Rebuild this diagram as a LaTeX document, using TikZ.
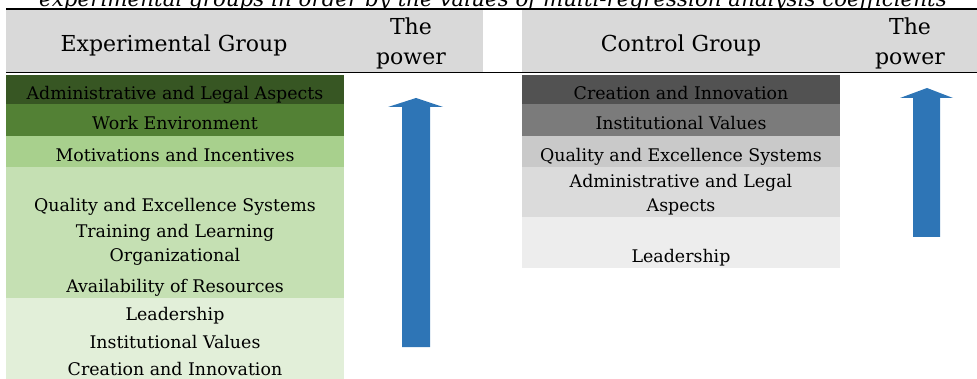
\documentclass[tikz,border=0pt]{standalone}
\usepackage{fontspec}
\setmainfont{DejaVu Serif}
\definecolor{hdr}{HTML}{D9D9D9}
\definecolor{ga}{HTML}{375623}
\definecolor{gb}{HTML}{538135}
\definecolor{gc}{HTML}{A8D08D}
\definecolor{gd}{HTML}{C5E0B3}
\definecolor{ge}{HTML}{E2EFD9}
\definecolor{ka}{HTML}{525252}
\definecolor{kb}{HTML}{7B7B7B}
\definecolor{kc}{HTML}{C9C9C9}
\definecolor{kd}{HTML}{DBDBDB}
\definecolor{ke}{HTML}{EDEDED}
\definecolor{arr}{HTML}{2E75B6}
\tikzset{
  bodytxt/.style={anchor=base, inner sep=0pt, font=\fontsize{17.4}{20}\selectfont},
  headtxt/.style={anchor=base, inner sep=0pt, font=\fontsize{22}{26}\selectfont},
  captxt/.style={anchor=base, inner sep=0pt, font=\itshape\fontsize{21.4}{24}\selectfont},
  rulestyle/.style={line width=1.6pt, black},
}
\begin{document}
\begin{tikzpicture}[x=1pt,y=-1pt]
\useasboundingbox (0,0) rectangle (977,379);
\clip (0,0) rectangle (977,379);
% caption (cut off at top, as in the reference)
\node[captxt] (caption) at (493,7) {experimental groups in order by the values of multi-regression analysis coefficients};
% header bands
\fill[hdr] (6,10) rectangle (483,72);
\fill[hdr] (522,10) rectangle (977,72);
\draw[rulestyle] (6,9) -- (977,9);
\draw[rulestyle] (6,72.5) -- (977,72.5);
\node[headtxt] (eg) at (174,52) {Experimental Group};
\node[headtxt] (p1a) at (411,35) {The};
\node[headtxt] (p1b) at (411,65) {power};
\node[headtxt] (cg) at (681,52) {Control Group};
\node[headtxt] (p2a) at (910,35) {The};
\node[headtxt] (p2b) at (910,65) {power};
% left bands
\fill[ga] (6,75) rectangle (344,104);
\fill[gb] (6,104) rectangle (344,136);
\fill[gc] (6,136) rectangle (344,167);
\fill[gd] (6,167) rectangle (344,298);
\fill[ge] (6,298) rectangle (344,379);
\node[bodytxt] (l1) at (175,100) {Administrative and Legal Aspects};
\node[bodytxt] (l2) at (175,130) {Work Environment};
\node[bodytxt] (l3) at (175,162) {Motivations and Incentives};
\node[bodytxt] (l4) at (175,212) {Quality and Excellence Systems};
\node[bodytxt] (l5) at (175,238) {Training and Learning};
\node[bodytxt] (l6) at (175,262) {Organizational};
\node[bodytxt] (l7) at (175,293) {Availability of Resources};
\node[bodytxt] (l8) at (175,320) {Leadership};
\node[bodytxt] (l9) at (175,348) {Institutional Values};
\node[bodytxt] (l10) at (175,375) {Creation and Innovation};
% right bands
\fill[ka] (522,75) rectangle (840,104);
\fill[kb] (522,104) rectangle (840,136);
\fill[kc] (522,136) rectangle (840,167);
\fill[kd] (522,167) rectangle (840,217);
\fill[ke] (522,217) rectangle (840,268);
\node[bodytxt] (r1) at (681,100) {Creation and Innovation};
\node[bodytxt] (r2) at (681,130) {Institutional Values};
\node[bodytxt] (r3) at (681,162) {Quality and Excellence Systems};
\node[bodytxt] (r4) at (681,188) {Administrative and Legal};
\node[bodytxt] (r5) at (681,212) {Aspects};
\node[bodytxt] (r6) at (681,263) {Leadership};
% arrows
\fill[arr] (416,98) -- (443,107) -- (430,107) -- (430,347) -- (402,347) -- (402,107) -- (388,107) -- cycle;
\fill[arr] (927,88) -- (953,98) -- (940,98) -- (940,237) -- (913,237) -- (913,98) -- (900,98) -- cycle;
\end{tikzpicture}
\end{document}
